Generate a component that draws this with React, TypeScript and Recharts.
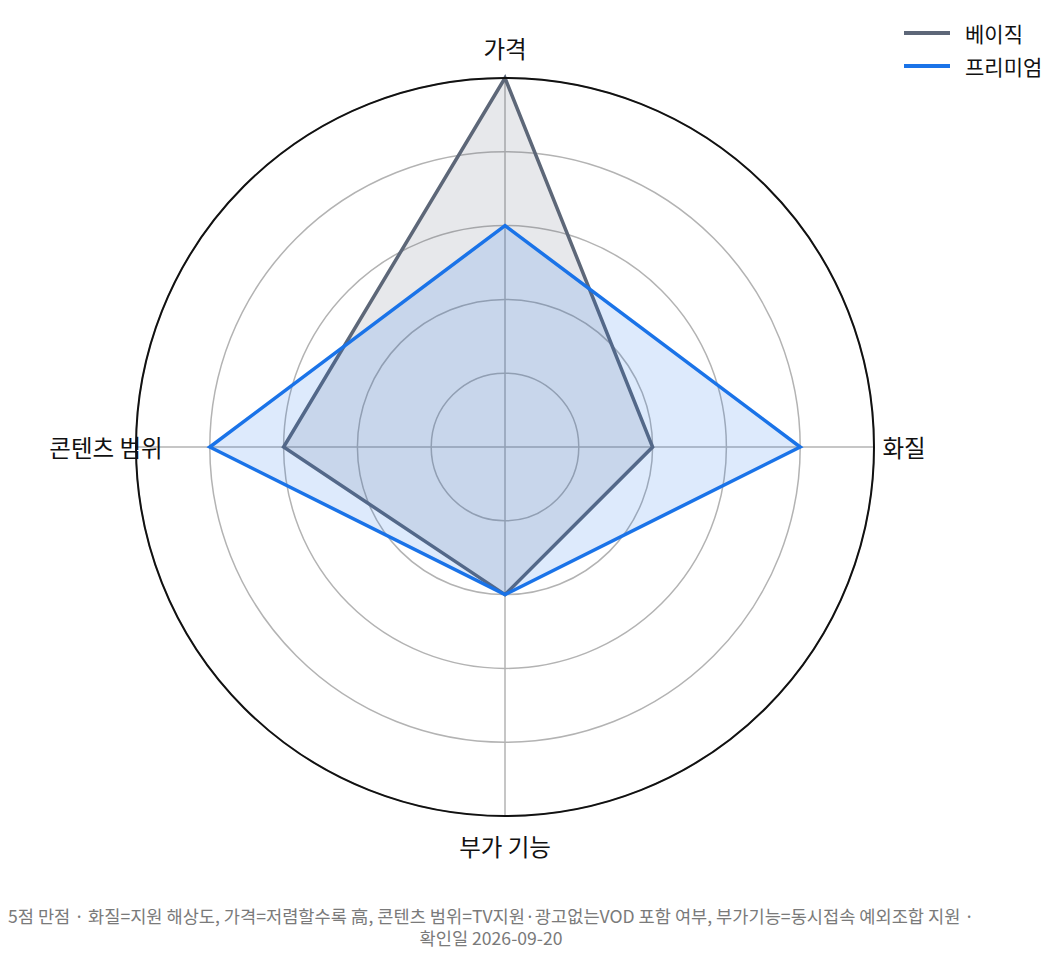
// Radar chart: 베이직 vs 프리미엄 plan comparison (5-point scale)

import { RadarChart, Radar, PolarGrid, PolarAngleAxis, PolarRadiusAxis, Legend } from 'recharts';

const categories = ['가격', '화질', '부가 기능', '콘텐츠 범위'];
const basicScores = [5, 2, 2, 3];
const premiumScores = [3, 4, 2, 4];
const radiusTicks = [0, 1, 2, 3, 4, 5];

const data = categories.map((name, i) => ({
    name,
    basic: basicScores[i],
    premium: premiumScores[i],
}));

const FONT = '"Noto Sans CJK KR", "Noto Sans", sans-serif';
const CX = 497;
const CY = 439;
const R = 369;

function AngleTick(props: any) {
    const { payload } = props;
    const rad = (payload.coordinate * Math.PI) / 180;
    const x = CX + (R + 30) * Math.cos(rad);
    const y = CY - (R + 30) * Math.sin(rad);
    return (
        <text
            x={x}
            y={y}
            textAnchor="middle"
            dominantBaseline="central"
            fontSize={23.5}
            fontFamily={FONT}
            fill="#111"
        >
            {payload.value}
        </text>
    );
}

function LegendContent(props: any) {
    const { payload } = props;
    return (
        <div style={{ fontFamily: FONT, fontSize: 21, color: '#111' }}>
            {payload.map((entry: any) => (
                <div key={entry.value} style={{ display: 'flex', alignItems: 'center', height: 33 }}>
                    <svg width={46} height={6} style={{ marginRight: 15 }}>
                        <line x1={0} y1={3} x2={46} y2={3} stroke={entry.color} strokeWidth={4} />
                    </svg>
                    <span>{entry.value}</span>
                </div>
            ))}
        </div>
    );
}

export default function App() {
    return (
        <div style={{ width: 1048, fontFamily: FONT }}>
            <RadarChart width={1048} height={897} cx={CX} cy={CY} outerRadius={R} data={data}>
                <PolarGrid gridType="circle" stroke="#b3b3b3" strokeWidth={1.5} />
                <PolarRadiusAxis domain={[0, 5]} ticks={radiusTicks as any} tickCount={6} tick={false} axisLine={false} />
                <PolarAngleAxis
                    dataKey="name"
                    tick={<AngleTick />}
                    tickLine={false}
                    axisLineType="circle"
                    axisLine={{ stroke: '#111', strokeWidth: 2 }}
                />
                <Radar
                    name="베이직"
                    dataKey="basic"
                    stroke="#5d6778"
                    strokeWidth={3.5}
                    fill="#5d6778"
                    fillOpacity={0.15}
                    isAnimationActive={false}
                />
                <Radar
                    name="프리미엄"
                    dataKey="premium"
                    stroke="#1a73e8"
                    strokeWidth={3.5}
                    fill="#1a73e8"
                    fillOpacity={0.15}
                    isAnimationActive={false}
                />
                <Legend
                    content={<LegendContent />}
                    wrapperStyle={{ position: 'absolute', top: 8, left: 896, width: 152 }}
                />
            </RadarChart>
            <div
                style={{
                    width: 966,
                    textAlign: 'center',
                    fontSize: 17.6,
                    lineHeight: '22px',
                    whiteSpace: 'nowrap',
                    color: '#7a7a7a',
                }}
            >
                5점 만점 · 화질=지원 해상도, 가격=저렴할수록 高, 콘텐츠 범위=TV지원·광고없는VOD 포함 여부, 부가기능=동시접속 예외조합 지원 ·
                <br />
                확인일 2026-09-20
            </div>
        </div>
    );
}
